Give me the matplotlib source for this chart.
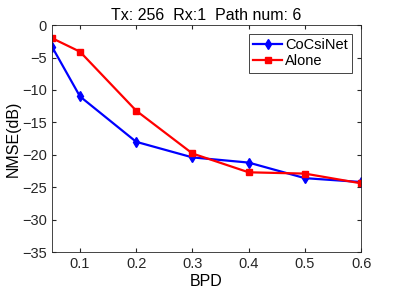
import matplotlib
matplotlib.use('Agg')
import matplotlib.pyplot as plt

bpd = [0.05, 0.1, 0.2, 0.3, 0.4, 0.5, 0.6]
cocsinet = [-3.3, -11.0, -18.0, -20.4, -21.2, -23.6, -24.2]
alone = [-2.0, -4.1, -13.2, -19.8, -22.7, -22.9, -24.4]
xticks = [0.1, 0.2, 0.3, 0.4, 0.5, 0.6]
yticks = [0, -5, -10, -15, -20, -25, -30, -35]

plt.rcParams['font.family'] = ['Liberation Sans', 'DejaVu Sans']
plt.rcParams['font.size'] = 10.5

fig = plt.figure(figsize=(3.99, 2.99), dpi=100)
ax = fig.add_axes([0.13, 0.157, 0.775, 0.759])

ax.plot(bpd, cocsinet, '-d', color='blue', lw=1.6, ms=5, label='CoCsiNet')
ax.plot(bpd, alone, '-s', color='red', lw=1.6, ms=4, label='Alone')

ax.set_xlim(0.05, 0.6)
ax.set_ylim(-35, 0)
ax.set_xticks(xticks)
ax.set_xticklabels([str(t) for t in xticks])
ax.set_yticks(yticks)
ax.tick_params(direction='in', length=3, colors='#262626', top=True, right=True, labelsize=10.5)
for s in ax.spines.values():
    s.set_color('#262626')
    s.set_linewidth(0.6)

ax.set_xlabel('BPD', fontsize=11.5, labelpad=2)
ax.set_ylabel('NMSE(dB)', fontsize=11.5, labelpad=1)
ax.set_title('Tx: 256  Rx:1  Path num: 6', fontsize=11.5, pad=4)

leg = ax.legend(loc='upper right', fancybox=False, framealpha=1, edgecolor='#262626',
                fontsize=10.5, handlelength=2.0, borderpad=0.3, labelspacing=0.15,
                handletextpad=0.2, borderaxespad=0.6)
leg.get_frame().set_linewidth(0.6)

fig.savefig('out.png', dpi=100)
